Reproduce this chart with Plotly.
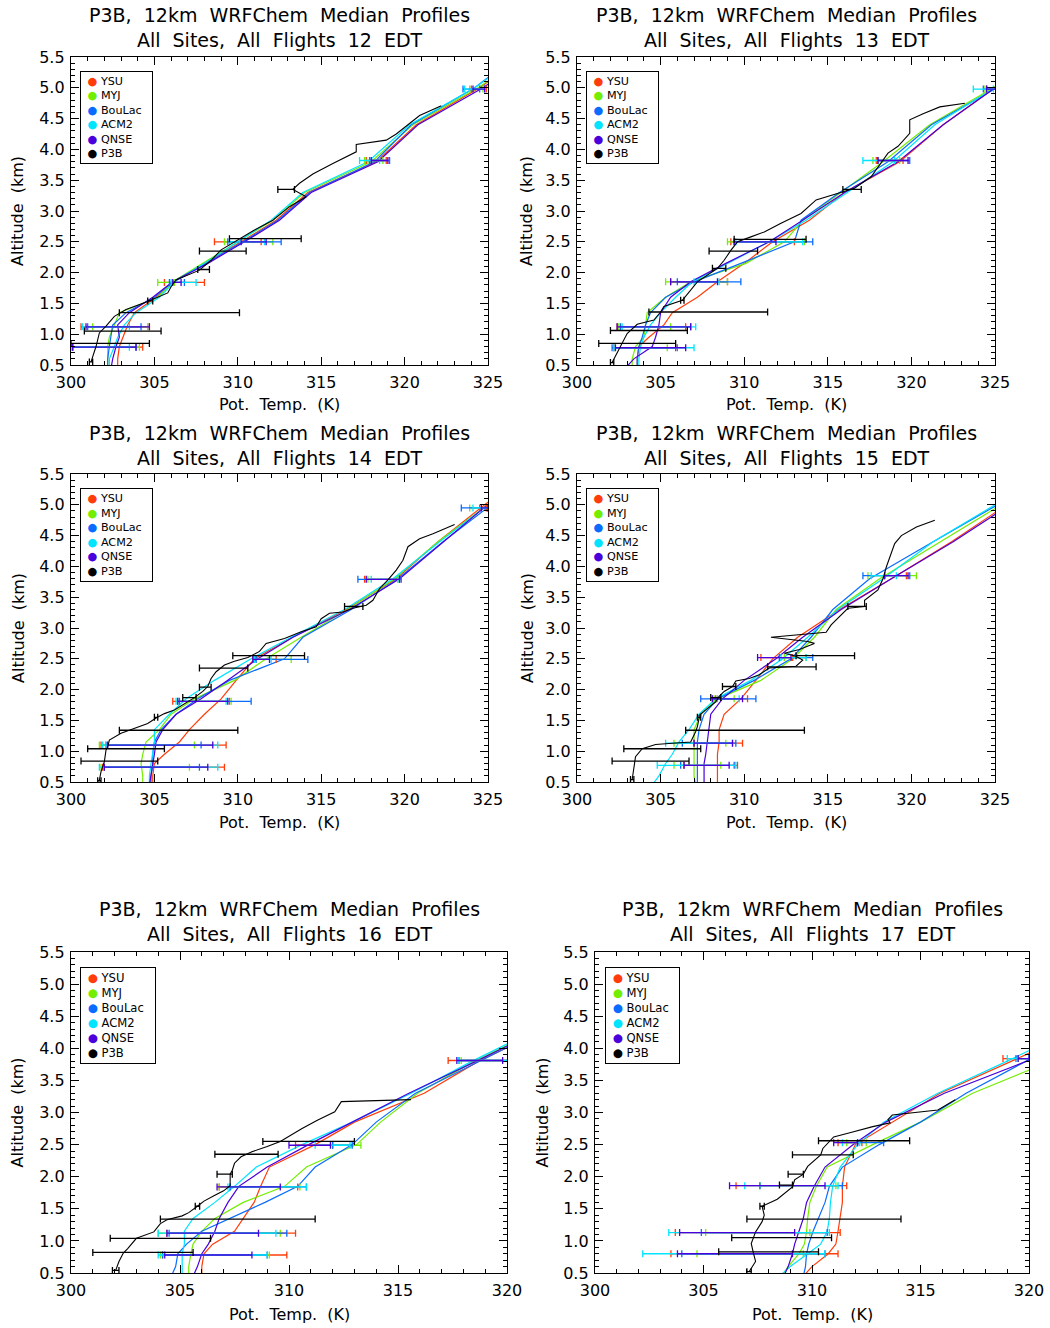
import plotly.graph_objects as go

W, H = 1050, 1328
FONT = "DejaVu Sans"

MODELS = ["YSU", "MYJ", "BouLac", "ACM2", "QNSE"]
MODEL_COLORS = ["#ff3c0a", "#74ee00", "#0a6cff", "#00e4ff", "#4a00dc"]
P3B_COLOR = "#000000"
HOURS = [12, 13, 14, 15, 16, 17]

# common model altitude levels (km)
alt_mod = [0.45, 0.6, 0.8, 0.95, 1.15, 1.35, 1.6, 1.85, 2.15, 2.5, 2.85, 3.3, 3.8, 4.4, 5.0, 5.6]

# ---------------- 12 EDT ----------------
ysu_12 = [302.8, 302.8, 302.9, 303.1, 303.4, 303.8, 305.1, 306.2, 308.0, 310.2, 312.3, 314.2, 318.3, 320.7, 324.5, 327.5]
myj_12 = [302.2, 302.2, 302.2, 302.3, 302.6, 302.9, 305.2, 306.1, 307.9, 310.0, 312.1, 314.0, 318.0, 320.5, 324.4, 327.6]
boulac_12 = [302.2, 302.2, 302.3, 302.4, 302.5, 303.3, 305.0, 306.1, 308.1, 310.3, 312.4, 314.3, 318.2, 320.4, 324.2, 327.1]
acm2_12 = [302.3, 302.3, 302.6, 302.8, 303.2, 303.9, 305.3, 306.2, 308.0, 310.0, 312.0, 313.9, 317.8, 320.3, 324.2, 327.3]
qnse_12 = [302.4, 302.5, 302.7, 302.9, 302.8, 303.5, 304.9, 306.1, 308.2, 310.4, 312.5, 314.4, 318.4, 320.8, 324.7, 327.8]
obs_alt_12 = [0.55, 0.8, 1.02, 1.13, 1.29, 1.4, 1.53, 1.67, 1.77, 1.88, 2.04, 2.2, 2.37, 2.55, 2.69, 2.85, 3.07, 3.23, 3.35, 3.45, 3.6, 3.77, 3.96, 4.08, 4.15, 4.25, 4.42, 4.55, 4.71]
p3b_12 = [301.2, 301.5, 301.7, 302.1, 302.6, 303.3, 304.6, 305.8, 306.0, 306.3, 307.7, 308.4, 309.0, 310.1, 311.0, 312.1, 313.1, 314.1, 313.3, 313.7, 314.5, 315.7, 317.1, 317.1, 318.9, 319.5, 320.3, 320.9, 322.2]
obs_bar_alt_12 = [0.55, 0.85, 1.05, 1.35, 1.54, 2.05, 2.35, 2.55, 3.35]
obs_bar_lo_12 = [301.1, 300.0, 300.8, 302.9, 304.6, 307.6, 307.7, 309.5, 312.4]
obs_bar_hi_12 = [301.3, 304.7, 305.4, 310.1, 304.9, 308.3, 310.5, 313.8, 313.4]
bar_alt_12 = [0.79, 1.12, 1.84, 2.50, 3.82, 4.98]
ysu_lo_12 = [300.1, 300.6, 305.6, 308.6, 317.7, 324.0]
ysu_hi_12 = [304.3, 304.7, 308.0, 311.4, 318.9, 324.9]
myj_lo_12 = [300.0, 301.3, 305.2, 309.2, 317.6, 323.9]
myj_hi_12 = [304.1, 304.6, 306.2, 312.1, 318.7, 324.7]
boulac_lo_12 = [300.1, 301.0, 305.9, 309.4, 317.9, 323.5]
boulac_hi_12 = [303.9, 304.2, 306.8, 312.6, 319.1, 324.5]
acm2_lo_12 = [300.0, 300.7, 306.0, 309.5, 317.3, 323.6]
acm2_hi_12 = [303.5, 303.5, 307.5, 311.6, 318.5, 324.8]
qnse_lo_12 = [300.1, 300.9, 306.1, 310.2, 318.0, 324.1]
qnse_hi_12 = [303.9, 304.7, 306.6, 311.7, 319.0, 324.8]

# ---------------- 13 EDT ----------------
ysu_13 = [303.6, 303.6, 303.7, 304.3, 305.2, 305.7, 307.2, 308.4, 310.0, 311.7, 313.9, 316.0, 319.3, 321.9, 325.0, 328.0]
myj_13 = [303.3, 303.3, 303.5, 304.0, 304.1, 304.2, 305.3, 306.8, 310.1, 312.4, 313.5, 315.8, 318.3, 321.1, 324.9, 328.0]
boulac_13 = [303.6, 303.6, 303.7, 303.9, 304.1, 304.4, 305.3, 307.0, 309.8, 313.0, 313.4, 315.7, 318.6, 321.2, 325.1, 328.2]
acm2_13 = [303.7, 303.7, 303.8, 304.0, 304.4, 305.0, 305.9, 306.9, 309.0, 311.5, 313.7, 316.2, 318.9, 321.4, 325.0, 328.0]
qnse_13 = [302.9, 303.4, 304.5, 304.7, 304.9, 305.0, 305.6, 306.8, 308.9, 311.5, 313.5, 316.0, 319.2, 321.9, 325.0, 328.0]
obs_alt_13 = [0.54, 0.85, 1.01, 1.16, 1.23, 1.36, 1.45, 1.55, 1.69, 1.85, 2.07, 2.2, 2.36, 2.5, 2.58, 2.66, 2.8, 2.96, 3.18, 3.31, 3.37, 3.56, 3.78, 3.94, 4.05, 4.26, 4.48, 4.58, 4.69, 4.75]
p3b_13 = [302.1, 302.7, 303.0, 303.6, 304.6, 305.0, 305.2, 306.3, 306.7, 307.2, 308.4, 308.8, 309.2, 309.6, 310.4, 311.2, 312.2, 313.4, 314.3, 315.9, 316.6, 317.6, 318.2, 318.6, 319.2, 319.9, 319.9, 320.7, 321.7, 323.2]
obs_bar_alt_13 = [0.54, 0.85, 1.06, 1.36, 1.55, 2.07, 2.35, 2.54, 3.35]
obs_bar_lo_13 = [302.0, 301.3, 302.0, 304.3, 306.2, 308.1, 307.9, 309.4, 315.9]
obs_bar_hi_13 = [302.2, 305.9, 306.6, 311.4, 306.4, 308.9, 310.8, 313.7, 317.0]
bar_alt_13 = [0.78, 1.12, 1.85, 2.50, 3.82, 4.98]
ysu_lo_13 = [302.2, 302.4, 305.6, 309.2, 317.9, 324.5]
ysu_hi_13 = [306.0, 306.5, 309.0, 313.0, 319.5, 325.2]
myj_lo_13 = [302.2, 302.5, 305.3, 309.0, 317.7, 324.4]
myj_hi_13 = [305.4, 305.6, 309.0, 313.6, 319.3, 325.1]
boulac_lo_13 = [302.1, 302.6, 306.0, 309.4, 318.0, 324.3]
boulac_hi_13 = [305.9, 306.8, 309.8, 314.1, 319.9, 325.3]
acm2_lo_13 = [302.2, 302.7, 307.0, 309.5, 317.1, 323.7]
acm2_hi_13 = [307.0, 307.1, 308.5, 313.5, 319.0, 324.9]
qnse_lo_13 = [302.3, 302.4, 305.6, 309.4, 318.0, 324.5]
qnse_hi_13 = [306.5, 306.8, 308.4, 311.9, 319.8, 325.2]

# ---------------- 14 EDT ----------------
ysu_14 = [304.9, 304.9, 305.0, 305.6, 306.5, 307.1, 308.0, 309.0, 309.9, 311.0, 313.3, 316.5, 319.5, 322.0, 324.8, 327.6]
myj_14 = [304.3, 304.3, 304.2, 304.3, 304.5, 305.3, 306.0, 307.4, 309.8, 311.7, 313.8, 316.6, 319.4, 322.0, 325.0, 327.8]
boulac_14 = [304.8, 304.8, 304.9, 304.9, 305.0, 305.4, 306.3, 307.6, 309.5, 312.8, 313.9, 316.8, 319.6, 322.3, 325.2, 328.0]
acm2_14 = [304.7, 304.7, 304.8, 304.9, 305.0, 305.0, 305.9, 306.9, 308.6, 310.8, 313.2, 316.4, 319.3, 322.1, 325.0, 327.9]
qnse_14 = [304.7, 304.8, 304.9, 305.0, 305.1, 305.5, 306.3, 307.8, 309.4, 311.2, 313.3, 316.7, 319.7, 322.3, 324.9, 327.6]
obs_alt_14 = [0.53, 0.67, 0.83, 1.02, 1.07, 1.18, 1.29, 1.34, 1.4, 1.45, 1.54, 1.61, 1.67, 1.8, 1.87, 1.97, 2.05, 2.18, 2.29, 2.4, 2.46, 2.52, 2.62, 2.75, 2.83, 2.94, 3.02, 3.15, 3.24, 3.26, 3.32, 3.37, 3.45, 3.64, 3.78, 3.94, 4.1, 4.32, 4.45, 4.53, 4.68]
p3b_14 = [301.7, 301.8, 302.0, 302.1, 302.2, 302.3, 303.0, 303.5, 304.1, 304.6, 305.1, 305.6, 306.2, 307.0, 307.4, 307.9, 308.2, 308.4, 308.7, 309.2, 309.8, 310.6, 311.3, 311.7, 312.8, 313.8, 314.7, 315.0, 315.5, 316.3, 316.9, 317.7, 318.1, 318.5, 319.0, 319.5, 319.9, 320.2, 320.9, 321.7, 323.0]
obs_bar_alt_14 = [0.52, 0.84, 1.04, 1.34, 1.55, 1.87, 2.04, 2.35, 2.55, 3.35]
obs_bar_lo_14 = [301.6, 300.6, 301.0, 302.9, 305.0, 306.7, 307.7, 307.7, 309.7, 316.4]
obs_bar_hi_14 = [301.8, 305.2, 305.6, 310.0, 305.2, 307.5, 308.4, 310.6, 314.0, 317.5]
bar_alt_14 = [0.74, 1.10, 1.81, 2.49, 3.79, 4.95]
ysu_lo_14 = [301.9, 301.8, 306.1, 310.9, 317.6, 324.5]
ysu_hi_14 = [309.2, 309.3, 309.5, 312.3, 319.7, 324.9]
myj_lo_14 = [301.8, 301.7, 306.4, 311.0, 317.8, 323.9]
myj_hi_14 = [307.1, 307.4, 309.6, 313.2, 319.6, 325.0]
boulac_lo_14 = [302.0, 302.1, 306.5, 311.1, 317.2, 323.4]
boulac_hi_14 = [307.7, 307.8, 310.8, 314.2, 319.8, 325.0]
acm2_lo_14 = [301.7, 301.9, 306.3, 311.0, 318.0, 324.1]
acm2_hi_14 = [308.8, 308.8, 309.3, 312.0, 319.6, 325.0]
qnse_lo_14 = [302.0, 302.2, 306.4, 310.9, 317.7, 324.6]
qnse_hi_14 = [308.2, 308.5, 309.4, 311.9, 319.7, 325.0]

# ---------------- 15 EDT ----------------
ysu_15 = [308.4, 308.4, 308.4, 308.4, 308.5, 308.5, 308.8, 309.8, 310.7, 311.7, 313.2, 315.7, 318.8, 322.4, 325.7, 329.0]
myj_15 = [307.1, 307.0, 307.0, 307.0, 307.0, 307.0, 307.4, 308.4, 311.0, 312.9, 314.2, 315.5, 318.1, 321.7, 325.3, 329.0]
boulac_15 = [307.2, 307.2, 307.2, 307.2, 307.2, 307.3, 307.6, 308.4, 310.6, 312.8, 314.0, 315.3, 317.5, 321.3, 325.1, 329.0]
acm2_15 = [304.5, 304.9, 305.3, 305.7, 306.1, 306.7, 307.3, 308.3, 310.4, 312.3, 313.8, 315.6, 318.3, 321.3, 325.0, 328.8]
qnse_15 = [307.6, 307.6, 307.6, 307.7, 307.8, 307.9, 308.0, 308.7, 310.0, 311.9, 313.5, 315.8, 318.8, 322.5, 325.9, 329.3]
obs_alt_15 = [0.54, 0.72, 0.91, 1.04, 1.11, 1.13, 1.15, 1.32, 1.4, 1.53, 1.58, 1.67, 1.8, 1.89, 1.97, 2.05, 2.14, 2.18, 2.24, 2.35, 2.38, 2.48, 2.54, 2.59, 2.65, 2.75, 2.78, 2.85, 2.93, 3.05, 3.18, 3.32, 3.35, 3.45, 3.62, 3.8, 3.99, 4.15, 4.37, 4.5, 4.64, 4.75]
p3b_15 = [303.3, 303.4, 303.5, 303.9, 304.7, 305.7, 306.8, 307.1, 307.2, 307.3, 307.3, 307.7, 308.3, 308.5, 308.8, 309.3, 309.5, 310.3, 310.9, 311.5, 313.1, 313.5, 313.1, 312.4, 313.3, 314.2, 313.8, 311.6, 314.9, 315.2, 315.7, 316.2, 317.2, 317.2, 318.0, 318.3, 318.5, 318.7, 319.0, 319.4, 320.3, 321.4]
obs_bar_alt_15 = [0.54, 0.84, 1.04, 1.34, 1.55, 1.87, 2.05, 2.37, 2.55, 3.35]
obs_bar_lo_15 = [303.2, 302.1, 302.8, 306.5, 307.2, 308.0, 308.7, 311.4, 313.1, 316.2]
obs_bar_hi_15 = [303.4, 306.7, 307.4, 313.6, 307.4, 308.6, 309.5, 314.3, 316.6, 317.3]
bar_alt_15 = [0.77, 1.13, 1.85, 2.52, 3.85]
ysu_lo_15 = [306.4, 307.0, 308.3, 311.0, 318.4]
ysu_hi_15 = [309.6, 309.9, 310.2, 312.9, 319.7]
myj_lo_15 = [305.8, 305.8, 308.2, 312.4, 317.4]
myj_hi_15 = [308.6, 308.9, 309.4, 313.7, 320.3]
boulac_lo_15 = [306.2, 306.3, 307.4, 312.1, 317.1]
boulac_hi_15 = [309.4, 309.5, 310.7, 314.1, 319.9]
acm2_lo_15 = [304.8, 305.3, 308.4, 312.2, 317.6]
acm2_hi_15 = [309.5, 309.3, 309.7, 313.7, 319.1]
qnse_lo_15 = [306.4, 307.0, 308.1, 310.8, 318.4]
qnse_hi_15 = [309.1, 309.3, 309.9, 312.8, 319.8]

# ---------------- 16 EDT ----------------
ysu_16 = [306.0, 306.0, 306.1, 306.5, 307.5, 307.9, 308.4, 308.7, 309.1, 311.2, 313.0, 316.2, 318.7, 322.4, 325.5, 328.5]
myj_16 = [305.4, 305.4, 305.5, 305.6, 306.0, 306.6, 307.9, 309.8, 310.8, 313.1, 314.2, 315.9, 318.5, 322.2, 325.0, 328.0]
boulac_16 = [304.6, 304.8, 304.9, 305.3, 306.0, 307.3, 308.9, 310.4, 311.2, 312.9, 314.0, 315.8, 318.7, 322.3, 325.0, 328.0]
acm2_16 = [305.1, 305.1, 305.1, 305.2, 305.2, 305.6, 306.6, 307.5, 308.5, 310.6, 312.9, 315.6, 318.4, 322.0, 325.0, 328.0]
qnse_16 = [305.6, 305.8, 306.0, 306.3, 306.6, 306.8, 307.2, 307.7, 309.0, 310.9, 312.9, 315.5, 318.6, 322.2, 325.0, 328.0]
obs_alt_16 = [0.54, 0.68, 0.81, 0.88, 1.04, 1.09, 1.14, 1.27, 1.33, 1.39, 1.44, 1.54, 1.62, 1.71, 1.78, 1.86, 2.04, 2.1, 2.21, 2.31, 2.39, 2.47, 2.55, 2.75, 2.88, 3.01, 3.17, 3.2]
p3b_16 = [302.05, 302.2, 302.4, 302.6, 303.0, 303.4, 303.8, 304.1, 304.4, 305.1, 305.4, 305.8, 306.1, 306.6, 307.0, 307.3, 307.3, 307.4, 307.5, 307.8, 308.3, 309.0, 309.6, 310.6, 311.3, 312.1, 312.4, 315.6]
obs_bar_alt_16 = [0.54, 0.82, 1.04, 1.34, 1.54, 2.04, 2.35, 2.55]
obs_bar_lo_16 = [301.9, 301.0, 301.8, 304.1, 305.7, 306.7, 306.6, 308.8]
obs_bar_hi_16 = [302.2, 305.6, 306.4, 311.2, 305.9, 307.4, 309.5, 313.0]
bar_alt_16 = [0.78, 1.12, 1.84, 2.49, 3.81]
ysu_lo_16 = [304.2, 304.4, 306.8, 310.3, 317.3]
ysu_hi_16 = [309.9, 310.3, 310.4, 312.0, 320.2]
myj_lo_16 = [304.1, 304.0, 306.8, 312.0, 317.9]
myj_hi_16 = [309.1, 309.6, 310.5, 313.3, 320.2]
boulac_lo_16 = [304.2, 304.5, 307.3, 312.0, 317.8]
boulac_hi_16 = [309.0, 309.9, 310.8, 312.9, 320.2]
acm2_lo_16 = [304.0, 304.0, 307.2, 311.2, 317.8]
acm2_hi_16 = [309.0, 309.4, 310.8, 312.8, 320.2]
qnse_lo_16 = [304.3, 304.4, 306.7, 310.0, 317.7]
qnse_hi_16 = [308.3, 308.6, 309.6, 311.9, 319.8]

# ---------------- 17 EDT ----------------
ysu_17 = [309.6, 310.0, 310.75, 311.1, 311.2, 311.3, 311.4, 311.4, 311.5, 312.0, 313.7, 315.9, 319.2, 323.2, 327.0, 330.0]
myj_17 = [308.6, 308.9, 309.4, 309.65, 309.75, 309.8, 309.9, 310.2, 310.7, 312.8, 315.0, 317.4, 321.0, 325.0, 329.0, 333.0]
boulac_17 = [309.6, 309.7, 309.75, 309.85, 310.05, 310.3, 310.6, 310.8, 311.4, 313.1, 315.0, 317.1, 319.8, 323.1, 326.5, 330.0]
acm2_17 = [308.5, 309.0, 309.8, 310.4, 310.7, 310.8, 310.85, 310.95, 311.3, 312.1, 313.3, 315.8, 319.0, 322.8, 326.5, 330.0]
qnse_17 = [308.7, 308.9, 309.1, 309.2, 309.4, 309.6, 309.75, 310.1, 310.6, 311.9, 313.4, 316.1, 319.9, 324.0, 328.0, 332.0]
obs_alt_17 = [0.52, 0.68, 0.81, 0.96, 1.14, 1.3, 1.4, 1.54, 1.65, 1.79, 1.84, 1.95, 2.04, 2.16, 2.34, 2.44, 2.62, 2.68, 2.78, 2.84, 2.89, 2.96, 3.04, 3.2]
p3b_17 = [307.1, 307.4, 307.3, 307.2, 307.4, 307.7, 307.8, 307.7, 308.4, 308.9, 309.1, 309.2, 309.6, 309.8, 310.4, 310.5, 311.0, 311.7, 312.8, 313.6, 313.5, 313.7, 315.8, 316.6]
obs_bar_alt_17 = [0.52, 0.83, 1.05, 1.34, 1.54, 1.87, 2.04, 2.34, 2.56]
obs_bar_lo_17 = [307.0, 305.7, 306.3, 307.0, 307.6, 308.5, 308.9, 309.1, 310.3]
obs_bar_hi_17 = [307.2, 310.3, 310.9, 314.1, 307.8, 309.1, 309.6, 311.9, 314.5]
bar_alt_17 = [0.80, 1.13, 1.86, 2.53, 3.84]
ysu_lo_17 = [303.5, 303.7, 306.5, 311.2, 318.8]
ysu_hi_17 = [311.2, 311.3, 311.6, 312.3, 320.1]
myj_lo_17 = [304.7, 305.1, 307.6, 311.6, 319.5]
myj_hi_17 = [309.6, 309.9, 311.1, 312.5, 320.2]
boulac_lo_17 = [304.0, 304.9, 307.6, 312.1, 319.4]
boulac_hi_17 = [310.6, 310.7, 311.4, 313.3, 320.1]
acm2_lo_17 = [302.2, 303.4, 306.9, 311.4, 319.0]
acm2_hi_17 = [310.6, 310.8, 311.2, 312.2, 320.0]
qnse_lo_17 = [303.8, 303.9, 306.2, 311.0, 319.5]
qnse_hi_17 = [309.1, 309.2, 310.6, 312.1, 320.0]

# --------- grouping (references only) ---------
g = globals()
KEYS = ["ysu", "myj", "boulac", "acm2", "qnse"]


def series(h):
    return dict(
        lines=[g[f"{m}_{h}"] for m in KEYS],
        lo=[g[f"{m}_lo_{h}"] for m in KEYS],
        hi=[g[f"{m}_hi_{h}"] for m in KEYS],
        bar_alt=g[f"bar_alt_{h}"],
        obs_alt=g[f"obs_alt_{h}"], obs=g[f"p3b_{h}"],
        ob_alt=g[f"obs_bar_alt_{h}"], ob_lo=g[f"obs_bar_lo_{h}"], ob_hi=g[f"obs_bar_hi_{h}"],
    )


# --------- layout geometry (pixels) ---------
PANELS = [
    dict(h=12, box=(71, 57, 488, 365), xr=(300, 325), leg=(80, 71, 153, 164), ty=27, xl=404, yl=18, lf=11.2),
    dict(h=13, box=(577, 57, 995, 365), xr=(300, 325), leg=(586, 71, 659, 164), ty=27, xl=404, yl=527, lf=11.2),
    dict(h=14, box=(71, 474, 488, 782), xr=(300, 325), leg=(80, 488, 153, 582), ty=445, xl=822, yl=18, lf=11.2),
    dict(h=15, box=(577, 474, 995, 782), xr=(300, 325), leg=(586, 488, 659, 582), ty=445, xl=822, yl=527, lf=11.2),
    dict(h=16, box=(71, 952, 507, 1273), xr=(300, 320), leg=(80, 967, 156, 1064), ty=921, xl=1314, yl=17, lf=11.6),
    dict(h=17, box=(595, 952, 1029, 1273), xr=(300, 320), leg=(605, 967, 680, 1064), ty=921, xl=1314, yl=542, lf=11.6),
]

fig = go.Figure()
annotations = []
layout_axes = {}
SP = "\u00a0 "

for i, p in enumerate(PANELS, start=1):
    s = series(p["h"])
    xa = "x" if i == 1 else f"x{i}"
    ya = "y" if i == 1 else f"y{i}"
    for k, m in enumerate(MODELS):
        fig.add_trace(go.Scatter(x=s["lines"][k], y=alt_mod, mode="lines", name=m,
                                 line=dict(color=MODEL_COLORS[k], width=1.2),
                                 xaxis=xa, yaxis=ya, showlegend=False))
    for k, m in enumerate(MODELS):
        lo, hi = s["lo"][k], s["hi"][k]
        fig.add_trace(go.Scatter(
            x=lo, y=s["bar_alt"], mode="markers", name=m + " range",
            marker=dict(size=1, opacity=0, color=MODEL_COLORS[k]),
            error_x=dict(type="data", symmetric=False, array=[b - a for a, b in zip(lo, hi)],
                         arrayminus=[0] * len(lo), color=MODEL_COLORS[k], thickness=1.3, width=3.5),
            xaxis=xa, yaxis=ya, showlegend=False, hoverinfo="skip"))
    fig.add_trace(go.Scatter(x=s["obs"], y=s["obs_alt"], mode="lines", name="P3B",
                             line=dict(color=P3B_COLOR, width=1.1),
                             xaxis=xa, yaxis=ya, showlegend=False))
    fig.add_trace(go.Scatter(
        x=s["ob_lo"], y=s["ob_alt"], mode="markers", name="P3B range",
        marker=dict(size=1, opacity=0, color=P3B_COLOR),
        error_x=dict(type="data", symmetric=False, array=[b - a for a, b in zip(s["ob_lo"], s["ob_hi"])],
                     arrayminus=[0] * len(s["ob_lo"]), color=P3B_COLOR, thickness=1.3, width=3.5),
        xaxis=xa, yaxis=ya, showlegend=False, hoverinfo="skip"))

    L, T, R, B = p["box"]
    common = dict(showline=True, linecolor="black", linewidth=1.3, mirror="allticks",
                  ticks="inside", ticklen=8, tickwidth=1, tickcolor="black",
                  showgrid=False, zeroline=False, automargin=False,
                  tickfont=dict(family=FONT, size=16, color="black"))
    layout_axes["xaxis" if i == 1 else f"xaxis{i}"] = dict(
        common, domain=[L / W, R / W], range=list(p["xr"]), anchor=ya,
        tick0=300, dtick=5, ticklabelstandoff=3,
        minor=dict(ticks="inside", ticklen=4, dtick=1, tickcolor="black", showgrid=False))
    layout_axes["yaxis" if i == 1 else f"yaxis{i}"] = dict(
        common, domain=[1 - B / H, 1 - T / H], range=[0.5, 5.5], anchor=xa,
        tick0=0.5, dtick=0.5, tickformat=".1f", ticklabelstandoff=2,
        minor=dict(ticks="inside", ticklen=4, dtick=0.1, tickcolor="black", showgrid=False))

    cx = (L + R) / 2
    title = (f"P3B,{SP}12km{SP}WRFChem{SP}Median{SP}Profiles<br>"
             f"All{SP}Sites,{SP}All{SP}Flights{SP}{p['h']}{SP}EDT")
    annotations.append(dict(text=title, x=cx / W, y=1 - p["ty"] / H, xref="paper", yref="paper",
                            xanchor="center", yanchor="middle", showarrow=False, align="center",
                            font=dict(family=FONT, size=19, color="black")))
    annotations.append(dict(text=f"Pot.{SP}Temp.{SP}(K)", x=cx / W, y=1 - p["xl"] / H,
                            xref="paper", yref="paper", xanchor="center", yanchor="middle",
                            showarrow=False, font=dict(family=FONT, size=16, color="black")))
    annotations.append(dict(text=f"Altitude{SP}(km)", x=p["yl"] / W, y=1 - (T + B) / 2 / H,
                            xref="paper", yref="paper", xanchor="center", yanchor="middle",
                            textangle=-90, showarrow=False,
                            font=dict(family=FONT, size=16, color="black")))
    names = MODELS + ["P3B"]
    cols = MODEL_COLORS + [P3B_COLOR]
    leg_text = "<br>".join(f"\u00a0<span style='color:{c}'>\u25cf</span> {n}" for n, c in zip(names, cols))
    lx0, ly0, lx1, ly1 = p["leg"]
    annotations.append(dict(text=leg_text, x=lx0 / W, y=1 - ly0 / H, xref="paper", yref="paper",
                            xanchor="left", yanchor="top", showarrow=False, align="left",
                            valign="middle", width=lx1 - lx0 - 8, height=ly1 - ly0 - 8,
                            borderpad=3, bordercolor="black", borderwidth=1, bgcolor="white",
                            font=dict(family=FONT, size=p["lf"], color="black")))

fig.update_layout(width=W, height=H,
                  margin=dict(l=0, r=0, t=0, b=0, pad=0, autoexpand=False),
                  paper_bgcolor="white", plot_bgcolor="white", showlegend=False,
                  annotations=annotations, **layout_axes)

fig.write_html("out.html", config={"displayModeBar": False},
               post_script="document.body.style.margin='0px';document.body.style.overflow='hidden';")
